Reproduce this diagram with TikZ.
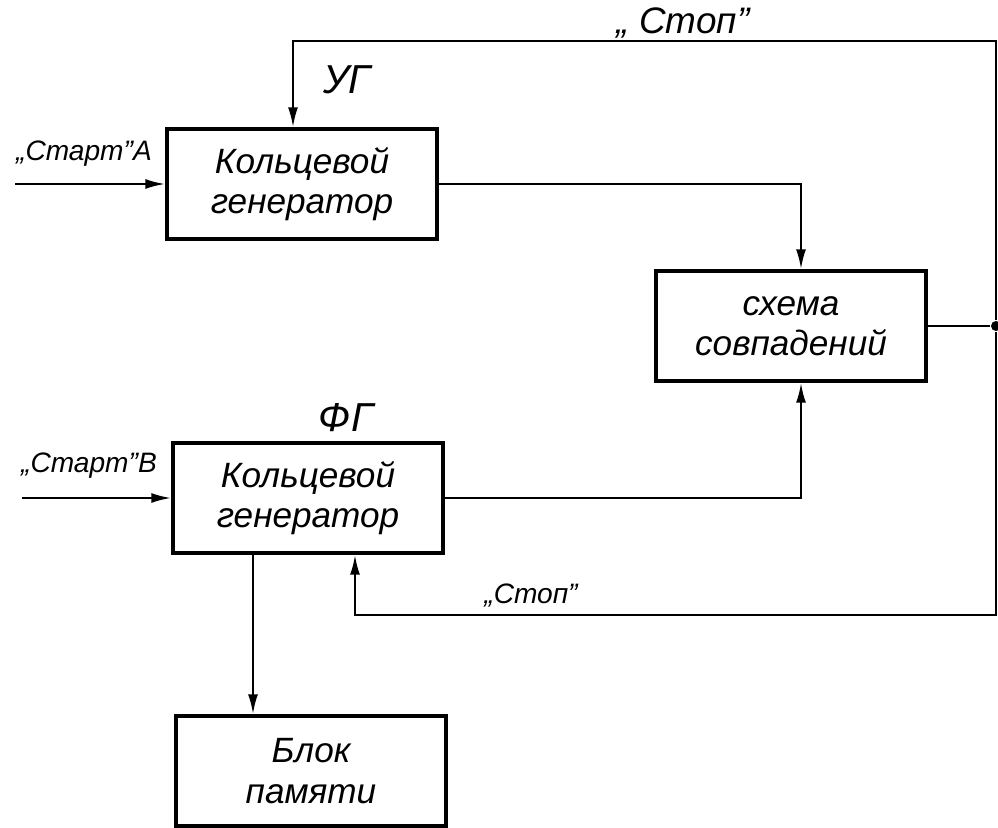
\documentclass[tikz,border=0pt]{standalone}
\usepackage{fontspec}
\setmainfont{Liberation Sans}
\usepackage{tikz}
\usetikzlibrary{arrows.meta}
\usetikzlibrary{calc}
\usetikzlibrary{positioning}
\tikzstyle{block} = [draw, line width=2pt, rectangle, align=center,
    minimum height=2.2cm, minimum width=5.4cm, font=\fontsize{20}{23}\selectfont\itshape]
\tikzstyle{input} = [coordinate]
\tikzstyle{output} = [coordinate]
\tikzstyle{sig} = [font=\fontsize{16}{18}\selectfont\itshape]
\tikzstyle{tag} = [font=\fontsize{23}{25}\selectfont\itshape]

\begin{document}
\begin{tikzpicture}[x=0.02cm, y=-0.02cm, line width=1.3pt, >={Latex[length=4mm,width=2mm]}]
    \useasboundingbox (0,0) rectangle (998,828);

    % generators
    \node[block] at (302,184) (ug) {Кольцевой\\генератор};
    \node[tag] at (347,80) (ugname) {УГ};
    \node[block] at (308,498) (fg) {Кольцевой\\генератор};
    \node[tag] at (346,418) (fgname) {ФГ};

    \node[block] at (791,326) (cs) {схема\\совпадений};
    \node[block] at (311,771) (mem) {Блок\\памяти};

    % start inputs
    \node [input] at (15,184) (inA) {};
    \node [input] at (22,498) (inB) {};
    \draw[->] (inA) -- (ug.west);
    \draw[->] (inB) -- (fg.west);
    \node[sig] at (84,154) (startA) {„Старт"A};
    \node[sig] at (89,466) (startB) {„Старт"B};

    % to the coincidence circuit
    \draw[->] (ug.east) -| ($(cs.north)+(10,0)$);
    \draw[->] (fg.east) -| ($(cs.south)+(10,0)$);

    % stop lines
    \node[circle, fill, inner sep=0pt, minimum size=0.2cm] at (996,326) (jn) {};
    \node [output] at (996,41) (topr) {};
    \node [output] at (996,615) (botr) {};
    \draw (cs.east) -- (jn);
    \draw[->] (jn) -- (topr) -| ($(ug.north)+(-9,0)$);
    \draw[->] (jn) -- (botr) -| ($(fg.south)+(47,0)$);
    \node[font=\fontsize{21}{23}\selectfont\itshape] at (683,23) (stop1) {„ Стоп"};
    \node[sig] at (531,595) (stop2) {„Стоп"};

    % memory
    \coordinate (fgout) at ($(fg.south)+(-55,0)$);
    \draw[->] (fgout) -- (fgout |- mem.north);
\end{tikzpicture}
\end{document}
